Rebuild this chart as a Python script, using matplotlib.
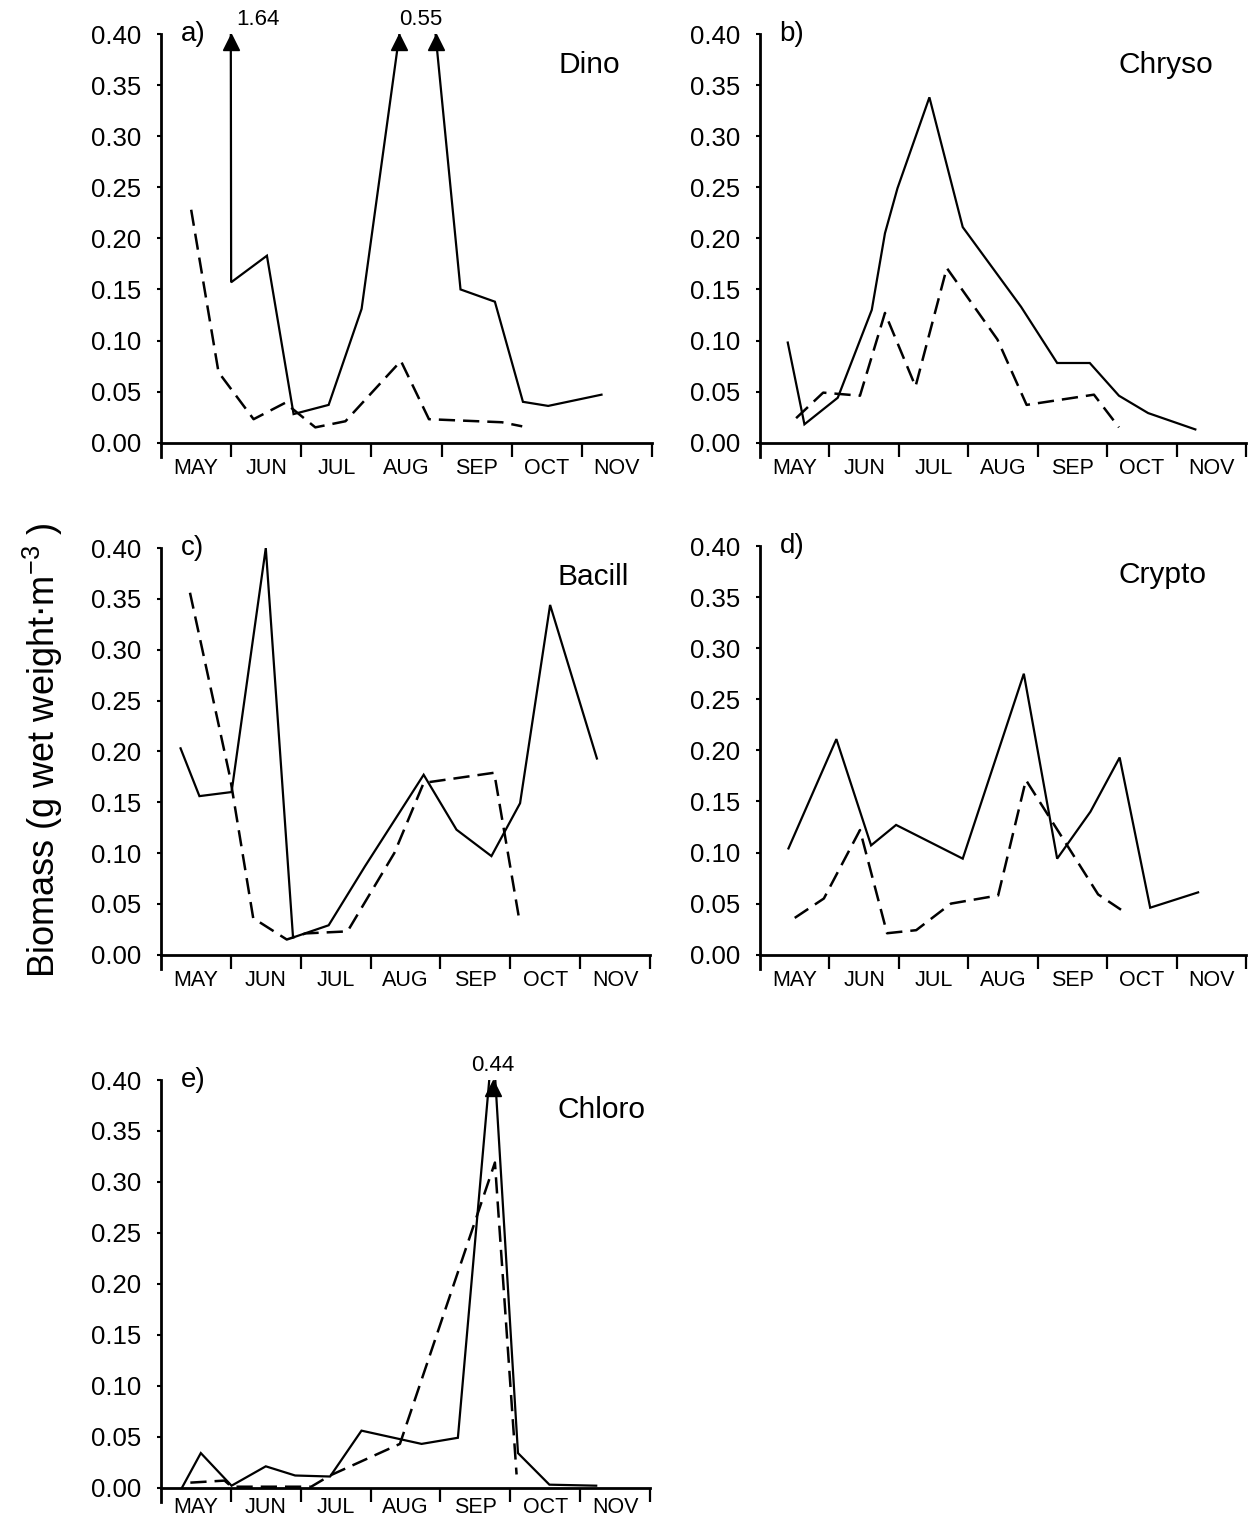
import numpy as np
import matplotlib
matplotlib.use("Agg")
import matplotlib.pyplot as plt

plt.rcParams['font.family'] = ['Liberation Sans', 'DejaVu Sans']

# Time axis: months elapsed since 1 May (0 = 1 May, 7 = 1 Dec)
month_labels = ["MAY", "JUN", "JUL", "AUG", "SEP", "OCT", "NOV"]
y_ticks = [0.00, 0.05, 0.10, 0.15, 0.20, 0.25, 0.30, 0.35, 0.40]

# a) Dinophyceae
dino_solid_t = [0.97, 1.00, 1.51, 1.89, 2.39, 2.86, 3.70, 4.27, 4.76, 5.16, 5.52, 6.28]
dino_solid_v = [1.64, 0.157, 0.183, 0.028, 0.037, 0.131, 0.55, 0.150, 0.138, 0.040, 0.036, 0.047]
dino_dash_t = [0.43, 0.82, 1.32, 1.77, 2.20, 2.63, 3.42, 3.82, 4.86, 5.15]
dino_dash_v = [0.228, 0.069, 0.023, 0.039, 0.015, 0.021, 0.080, 0.023, 0.020, 0.016]

# b) Chrysophyceae
chryso_solid_t = [0.40, 0.64, 1.12, 1.61, 1.80, 1.98, 2.44, 2.92, 3.76, 4.28, 4.75, 5.17, 5.59, 6.27]
chryso_solid_v = [0.098, 0.018, 0.044, 0.130, 0.205, 0.249, 0.338, 0.211, 0.133, 0.078, 0.078, 0.046, 0.029, 0.013]
chryso_dash_t = [0.52, 0.91, 1.44, 1.80, 2.24, 2.69, 3.42, 3.84, 4.81, 5.17]
chryso_dash_v = [0.024, 0.049, 0.046, 0.127, 0.055, 0.171, 0.101, 0.037, 0.047, 0.015]

# c) Bacillariophyceae
bacill_solid_t = [0.28, 0.55, 1.01, 1.50, 1.89, 2.40, 2.92, 3.76, 4.23, 4.73, 5.14, 5.57, 6.24]
bacill_solid_v = [0.203, 0.156, 0.160, 0.400, 0.017, 0.029, 0.087, 0.177, 0.123, 0.097, 0.149, 0.344, 0.193]
bacill_dash_t = [0.415, 0.99, 1.32, 1.80, 2.07, 2.67, 3.34, 3.76, 4.77, 5.13]
bacill_dash_v = [0.356, 0.174, 0.036, 0.015, 0.021, 0.023, 0.100, 0.169, 0.179, 0.034]

# d) Cryptophyceae
crypto_solid_t = [0.41, 1.10, 1.60, 1.96, 2.92, 3.80, 4.28, 4.76, 5.18, 5.62, 6.31]
crypto_solid_v = [0.104, 0.211, 0.107, 0.127, 0.094, 0.275, 0.094, 0.140, 0.193, 0.046, 0.061]
crypto_dash_t = [0.50, 0.92, 1.44, 1.83, 2.25, 2.75, 3.43, 3.83, 4.87, 5.20]
crypto_dash_v = [0.036, 0.055, 0.122, 0.021, 0.024, 0.050, 0.058, 0.171, 0.059, 0.044]

# e) Chlorophyceae
chloro_solid_t = [0.30, 0.57, 1.01, 1.50, 1.92, 2.42, 2.87, 3.73, 4.25, 4.75, 5.11, 5.56, 6.23]
chloro_solid_v = [0.000, 0.034, 0.002, 0.021, 0.012, 0.011, 0.056, 0.043, 0.049, 0.44, 0.034, 0.003, 0.002]
chloro_dash_t = [0.42, 0.91, 1.01, 2.15, 2.42, 3.42, 4.78, 5.09]
chloro_dash_v = [0.005, 0.007, 0.001, 0.001, 0.012, 0.043, 0.319, 0.013]

panel_letters = ["a)", "b)", "c)", "d)", "e)"]
group_names = ["Dino", "Chryso", "Bacill", "Crypto", "Chloro"]

series = [
    (dino_solid_t, dino_solid_v, dino_dash_t, dino_dash_v),
    (chryso_solid_t, chryso_solid_v, chryso_dash_t, chryso_dash_v),
    (bacill_solid_t, bacill_solid_v, bacill_dash_t, bacill_dash_v),
    (crypto_solid_t, crypto_solid_v, crypto_dash_t, crypto_dash_v),
    (chloro_solid_t, chloro_solid_v, chloro_dash_t, chloro_dash_v),
]

W, H = 1249, 1525
YTOP = 0.40
YBOT = -0.014

# axes boxes in pixels: (left, right, top of 0.40, bottom of the axes)
boxes_px = [
    (161, 652, 34, 457),
    (760, 1246, 34, 457),
    (161, 650, 548, 969),
    (760, 1246, 546, 969),
    (161, 650, 1080, 1502),
]
month_pad = [11, 11, 11, 11, 7]
name_x = [5.67, 5.16, 5.67, 5.16, 5.67]
name_y = [0.370, 0.370, 0.371, 0.372, 0.371]

fig = plt.figure(figsize=(W / 100, H / 100), dpi=100)


def off_scale_marks(ax, t, v, top):
    """Arrowheads and value labels where a series leaves the top of the scale."""
    for i, val in enumerate(v):
        if val <= top:
            continue
        crossings = []
        for j in (i - 1, i + 1):
            if 0 <= j < len(v) and v[j] < top:
                f = (val - top) / (val - v[j])
                crossings.append(t[i] + f * (t[j] - t[i]))
        if i == 0:
            xs = crossings
            ax.text(crossings[0] + 0.08, top + 0.004, f"{val:.2f}", ha="left",
                    va="bottom", fontsize=16)
        else:
            if max(crossings) - min(crossings) < 0.3:
                xs = [t[i]]
            else:
                xs = crossings
            ax.text(t[i], top + 0.004, f"{val:.2f}", ha="center", va="bottom",
                    fontsize=16)
        for x in xs:
            ax.plot([x], [top - 0.008], marker="^", color="k", ms=12,
                    clip_on=False, zorder=5)


for k, (l, r, t_px, b_px) in enumerate(boxes_px):
    ax = fig.add_axes([l / W, 1 - b_px / H, (r - l) / W, (b_px - t_px) / H])
    st, sv, dt, dv = series[k]
    ax.plot(st, sv, color="k", lw=1.6, solid_joinstyle="miter")
    ax.plot(dt, dv, color="k", lw=1.8, dashes=(6.5, 3.2))
    off_scale_marks(ax, st, sv, YTOP)
    off_scale_marks(ax, dt, dv, YTOP)

    ax.set_xlim(0, 7)
    ax.set_ylim(YBOT, YTOP)
    for s in ("top", "right"):
        ax.spines[s].set_visible(False)
    ax.spines["bottom"].set_position(("data", 0))
    ax.spines["bottom"].set_linewidth(2.0)
    ax.spines["left"].set_linewidth(2.0)

    ax.set_xticks(np.arange(1, 8))
    ax.set_xticklabels([])
    ax.set_xticks(np.arange(0.5, 7, 1.0), minor=True)
    ax.set_xticklabels(month_labels, minor=True)
    ax.tick_params(axis="x", which="major", direction="out", length=10, width=1.6)
    ax.tick_params(axis="x", which="minor", length=0, pad=month_pad[k],
                   labelsize=15.5)

    ax.set_yticks(y_ticks)
    ax.set_yticklabels([f"{y:.2f}" for y in y_ticks])
    ax.tick_params(axis="y", direction="out", length=3, width=1.5, pad=11,
                   labelsize=18.5)

    ax.text(0.28, 0.40, panel_letters[k], fontsize=20, ha="left", va="center")
    ax.text(name_x[k], name_y[k], group_names[k], fontsize=21.5, ha="left",
            va="center")

fig.text(0.034, 1 - 750 / H, r"Biomass (g wet weight$\cdot$m$^{\mathregular{-3}}$ )",
         rotation=90, fontsize=26, ha="center", va="center")

fig.savefig("out.png", dpi=100, facecolor="white")
